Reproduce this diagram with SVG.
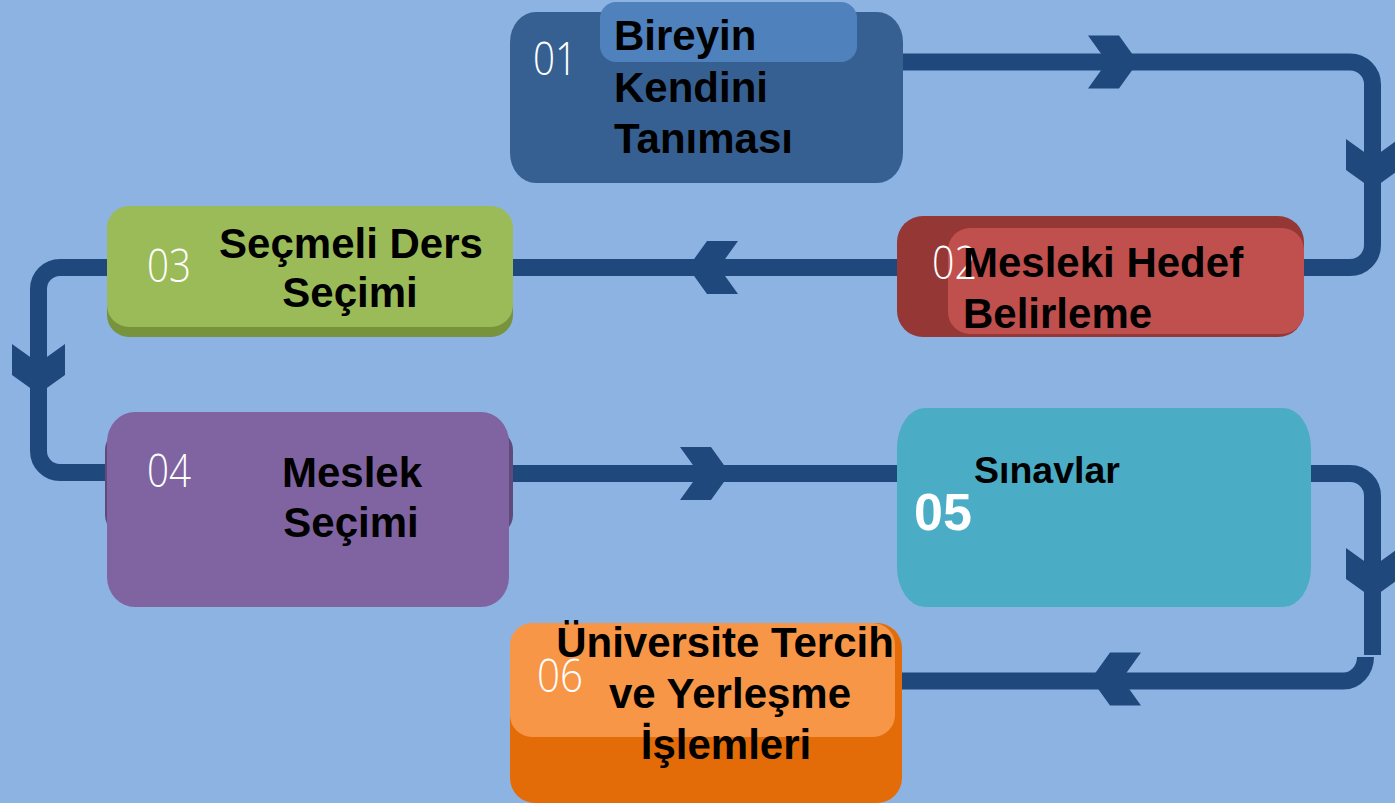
<svg xmlns="http://www.w3.org/2000/svg" width="1395" height="803" viewBox="0 0 1395 803">
<defs>
<style>
.conn{fill:none;stroke:#1F497D;stroke-width:17;stroke-linecap:butt}
.arr{fill:#1F497D}
.lbl{font-family:"Liberation Sans",Arial,sans-serif;font-weight:bold;fill:#000}
.num{font-family:"Open Sans","Liberation Sans",sans-serif;font-weight:300;font-size:46px;fill:#fff}
</style>
<path id="chev" d="M -50 -26.5 L -19 -26.5 L 0 0 L -19 26.5 L -50 26.5 L -31 0 Z"/>
</defs>
<rect x="0" y="0" width="1395" height="803" fill="#8DB3E2"/>
<g id="connectors">
<path class="conn" d="M 903 62 H 1350 A 22.5 22.5 0 0 1 1372.5 84.5 V 245 A 22.5 22.5 0 0 1 1350 267.5 H 1300"/>
<path class="conn" d="M 900 267.5 H 510"/>
<path class="conn" d="M 110 267.5 H 60 A 21.5 21.5 0 0 0 38.5 289 V 451 A 21.5 21.5 0 0 0 60 472.5 H 110"/>
<path class="conn" d="M 505 473.5 H 900"/>
<path class="conn" d="M 1308 473.5 H 1350 A 22.5 22.5 0 0 1 1372.5 496 V 655"/>
<path class="conn" d="M 1365.5 657 A 22 24 0 0 1 1343.5 681 H 898"/>
<use href="#chev" class="arr" transform="translate(1138,62)"/>
<use href="#chev" class="arr" transform="translate(1372.5,189) rotate(90)"/>
<use href="#chev" class="arr" transform="translate(688,267.5) rotate(180)"/>
<use href="#chev" class="arr" transform="translate(38.5,394) rotate(90)"/>
<use href="#chev" class="arr" transform="translate(730,473.5)"/>
<use href="#chev" class="arr" transform="translate(1372.5,598) rotate(90)"/>
<use href="#chev" class="arr" transform="translate(1091,679) rotate(180)"/>
</g>
<g id="node01">
<rect x="510" y="12" width="393" height="171" rx="26" ry="30" fill="#366092"/>
<rect x="600" y="2" width="257" height="60" rx="16" fill="#4F81BD"/>
<text class="num" x="533" y="75" textLength="44" lengthAdjust="spacingAndGlyphs">01</text>
<text class="lbl" font-size="42" x="614" y="50">Bireyin</text>
<text class="lbl" font-size="42" x="614" y="102">Kendini</text>
<text class="lbl" font-size="42" x="614" y="153">Tanıması</text>
</g>
<g id="node02">
<rect x="897" y="216" width="407" height="121" rx="26" fill="#953735"/>
<rect x="948" y="228" width="356" height="106" rx="22" fill="#C0504D"/>
<text class="num" x="932" y="279" textLength="45" lengthAdjust="spacingAndGlyphs">02</text>
<text class="lbl" font-size="42" x="963" y="277">Mesleki Hedef</text>
<text class="lbl" font-size="42" x="963" y="328">Belirleme</text>
</g>
<g id="node03">
<rect x="107" y="212" width="406" height="125" rx="22" fill="#77933C"/>
<rect x="107" y="206" width="406" height="121" rx="22" fill="#9BBB59"/>
<text class="num" x="147" y="282" textLength="44" lengthAdjust="spacingAndGlyphs">03</text>
<text class="lbl" font-size="42" x="351" y="258" text-anchor="middle">Seçmeli Ders</text>
<text class="lbl" font-size="42" x="350" y="307" text-anchor="middle">Seçimi</text>
</g>
<g id="node04">
<rect x="105" y="430" width="408" height="105" rx="20" fill="#604A7B"/>
<rect x="107" y="412" width="402" height="195" rx="28" ry="30" fill="#8064A2"/>
<text class="num" x="147" y="487" textLength="44" lengthAdjust="spacingAndGlyphs">04</text>
<text class="lbl" font-size="42" x="352" y="487" text-anchor="middle">Meslek</text>
<text class="lbl" font-size="42" x="351" y="537" text-anchor="middle">Seçimi</text>
</g>
<g id="node05">
<rect x="897" y="408" width="414" height="199" rx="28" ry="40" fill="#4BACC6"/>
<text class="lbl" font-size="37.5" x="974" y="483">Sınavlar</text>
<text class="lbl" font-size="52" x="914" y="530" style="fill:#fff">05</text>
</g>
<g id="node06">
<rect x="510" y="623" width="392" height="180" rx="25" fill="#E36C09"/>
<rect x="510" y="623" width="385" height="114" rx="22" fill="#F79646"/>
<text class="num" x="537" y="692" textLength="46" lengthAdjust="spacingAndGlyphs">06</text>
<text class="lbl" font-size="42" x="725" y="657" text-anchor="middle">Üniversite Tercih</text>
<text class="lbl" font-size="42" x="730" y="708" text-anchor="middle">ve Yerleşme</text>
<text class="lbl" font-size="42" x="726" y="759" text-anchor="middle">İşlemleri</text>
</g>
</svg>
